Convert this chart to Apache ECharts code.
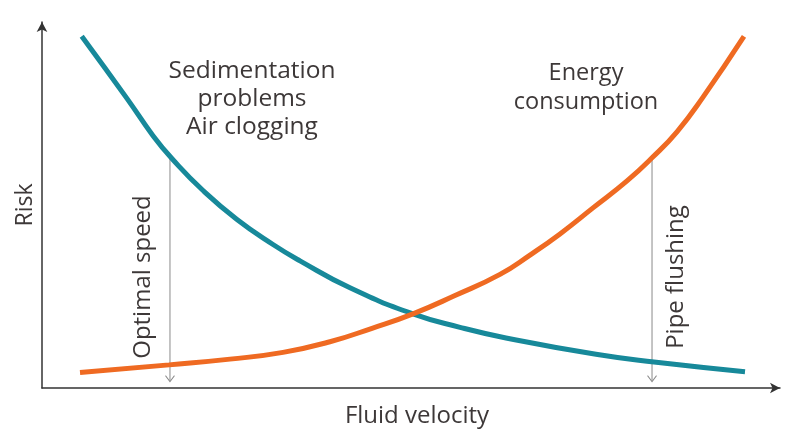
<!DOCTYPE html>
<html>
<head>
<meta charset="utf-8">
<script src="https://cdn.jsdelivr.net/npm/echarts@6/dist/echarts.min.js"></script>
<style>html,body{margin:0;padding:0;background:#fff}#c{width:788px;height:433px}</style>
</head>
<body>
<div id="c"></div>
<script>
// Data (x: fluid velocity, y: risk), arbitrary 0-100 units
const tealVelocity = [5.38, 11.48, 15.04, 17.75, 21.82, 26.42, 31.30, 34.96, 41.73, 50.27, 56.64, 62.87, 75.07, 82.93, 95.26];
const sedimentationRisk = [96.13, 79.21, 68.95, 62.37, 53.95, 46.05, 39.21, 34.74, 27.37, 20.26, 16.58, 13.68, 9.21, 7.11, 4.47];
const orangeVelocity = [5.15, 17.21, 25.47, 32.66, 39.02, 44.72, 50.27, 55.96, 62.06, 66.12, 70.19, 74.66, 79.27, 82.66, 86.04, 89.57, 95.12];
const energyRisk = [4.21, 6.32, 7.89, 9.74, 12.63, 16.32, 20.26, 25.26, 31.05, 36.32, 42.11, 49.21, 56.58, 62.89, 70.0, 79.47, 96.05];
const optimalSpeed = [17.34, 63.3];
const pipeFlushing = [82.66, 62.89];
const sedLabel = ['Sedimentation', 'problems', 'Air clogging'];
const energyLabel = ['Energy', 'consumption'];

const pair = (xs, ys) => xs.map((x, i) => [x, ys[i]]);
const chart = echarts.init(document.getElementById('c'));
const font = '"Open Sans", "Noto Sans", sans-serif';
const txt = '#3d3838';
function vline(p) {
  return {
    type: 'line', silent: true,
    data: [p, [p[0], 2]],
    showSymbol: false,
    lineStyle: { color: '#8a8a8a', width: 1 },
    markPoint: {
      silent: true,
      symbol: 'path://M0,0 L5,7 L10,0', symbolSize: [9, 6], symbolOffset: [0, -2],
      itemStyle: { color: 'none', borderColor: '#8a8a8a', borderWidth: 1 },
      label: { show: false },
      data: [{ coord: [p[0], 2] }]
    },
    z: 1
  };
}
chart.setOption({
  animation: false,
  grid: { left: 42, right: 8, top: 22, bottom: 31 },
  xAxis: {
    type: 'value', min: 0, max: 100,
    name: 'Fluid velocity', nameLocation: 'middle', nameGap: 16,
    nameTextStyle: { fontSize: 24, color: txt, fontFamily: font, padding: [0, 0, 0, 12] },
    axisLine: { lineStyle: { color: '#333', width: 1.5 }, symbol: ['none', 'arrow'], symbolSize: [8, 10] },
    axisTick: { show: false }, axisLabel: { show: false }, splitLine: { show: false }
  },
  yAxis: {
    type: 'value', min: 0, max: 100,
    name: 'Risk', nameLocation: 'middle', nameGap: 5, nameRotate: 90,
    nameTextStyle: { fontSize: 23, color: txt, fontFamily: font },
    axisLine: { show: true, lineStyle: { color: '#333', width: 1.5 }, symbol: ['none', 'arrow'], symbolSize: [8, 10] },
    axisTick: { show: false }, axisLabel: { show: false }, splitLine: { show: false }
  },
  series: [
    vline(optimalSpeed),
    vline(pipeFlushing),
    {
      type: 'line', smooth: 0.5, showSymbol: false, silent: true,
      data: pair(tealVelocity, sedimentationRisk),
      lineStyle: { color: '#17899a', width: 5 }, z: 3
    },
    {
      type: 'line', smooth: 0.5, showSymbol: false, silent: true,
      data: pair(orangeVelocity, energyRisk),
      lineStyle: { color: '#ef6a22', width: 5 }, z: 4
    }
  ],
  graphic: [
    { type: 'text', x: 252, y: 99, style: { text: sedLabel.join('\n'), fontSize: 24.5, lineHeight: 28, fill: txt, fontFamily: font, textAlign: 'center', textVerticalAlign: 'middle' } },
    { type: 'text', x: 586, y: 88, style: { text: energyLabel.join('\n'), fontSize: 23.5, lineHeight: 29, fill: txt, fontFamily: font, textAlign: 'center', textVerticalAlign: 'middle' } },
    { type: 'text', x: 143, y: 277, rotation: Math.PI / 2, style: { text: 'Optimal speed', fontSize: 24, fill: txt, fontFamily: font, textAlign: 'center', textVerticalAlign: 'middle' } },
    { type: 'text', x: 676, y: 277, rotation: Math.PI / 2, style: { text: 'Pipe flushing', fontSize: 24, fill: txt, fontFamily: font, textAlign: 'center', textVerticalAlign: 'middle' } }
  ]
});
</script>
</body>
</html>
